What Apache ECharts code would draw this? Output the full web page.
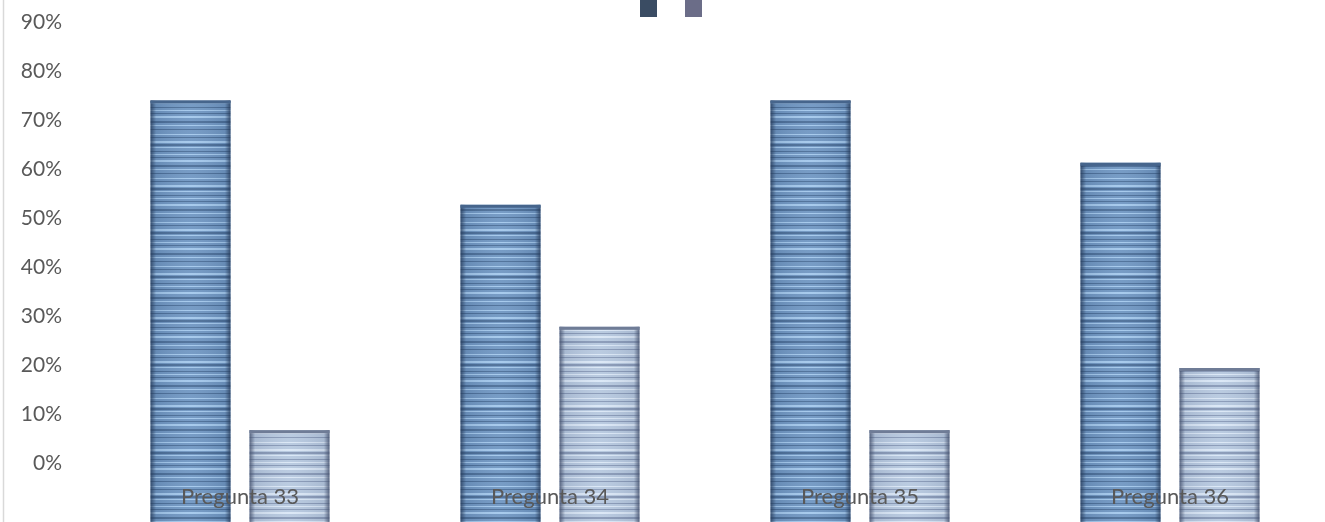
<!DOCTYPE html>
<html>
<head>
<meta charset="utf-8">
<script src="https://cdn.jsdelivr.net/npm/echarts@6/dist/echarts.min.js"></script>
<style>
  html, body { margin: 0; padding: 0; background: #ffffff; }
  #chart { width: 1325px; height: 522px; }
</style>
</head>
<body>
<div id="chart"></div>
<script>
// Category labels and the two series (percent values)
const categories = ['Pregunta 33', 'Pregunta 34', 'Pregunta 35', 'Pregunta 36'];
const serieA = [74, 52.7, 74, 61.3];
const serieB = [6.7, 27.8, 6.7, 19.4];
const seriesNames = ['Serie 1', 'Serie 2'];

// Value axis range; only non-negative ticks are labelled
const Y_MIN = -20;
const Y_MAX = 90;
const Y_STEP = 10;

const BAR_W = 80;
const BAR_GAP = 19;

// Horizontal striped fill used inside the bars
function stripeCanvas(base, light, dark) {
  const c = document.createElement('canvas');
  c.width = 4; c.height = 44;
  const g = c.getContext('2d');
  g.fillStyle = base; g.fillRect(0, 0, 4, 44);
  const rows = [
    [2, 1, light], [5, 1, dark], [9, 2, light], [12, 2, dark], [15, 1, light],
    [19, 1, dark], [22, 1, light], [25, 1, dark], [28, 2, light], [33, 2, dark],
    [37, 1, light], [41, 1, dark]
  ];
  rows.forEach(([y, h, col]) => { g.fillStyle = col; g.fillRect(0, y, 4, h); });
  return c;
}

const looks = [
  {
    pattern: stripeCanvas('#6f96c2', '#a3c8ec', '#4a6d97'),
    edge: 'rgba(38,58,88,0.8)', soft: 'rgba(38,58,88,0.12)', top: '#46658c'
  },
  {
    pattern: stripeCanvas('#b6c8df', '#dae7f6', '#8798b6'),
    edge: 'rgba(70,82,110,0.85)', soft: 'rgba(70,82,110,0.12)', top: '#6f7c96'
  }
];

function barRenderer(side, look) {
  return function (params, api) {
    const idx = api.value(0);
    const top = api.coord([idx, api.value(1)]);
    const base = api.coord([idx, Y_MIN]);
    const x = side < 0 ? top[0] - BAR_GAP / 2 - BAR_W : top[0] + BAR_GAP / 2;
    const h = base[1] - top[1];
    return {
      type: 'group',
      children: [
        { type: 'rect', shape: { x: x, y: top[1], width: BAR_W, height: h },
          style: { fill: { image: look.pattern, repeat: 'repeat' } } },
        { type: 'rect', shape: { x: x, y: top[1], width: BAR_W, height: h },
          style: { fill: new echarts.graphic.LinearGradient(0, 0, 1, 0, [
            { offset: 0, color: look.edge },
            { offset: 0.07, color: look.soft },
            { offset: 0.5, color: 'rgba(255,255,255,0.06)' },
            { offset: 0.93, color: look.soft },
            { offset: 1, color: look.edge }
          ]) } },
        { type: 'rect', shape: { x: x, y: top[1], width: BAR_W, height: 3 },
          style: { fill: look.top } }
      ]
    };
  };
}

const chart = echarts.init(document.getElementById('chart'), null, { renderer: 'canvas' });

chart.setOption({
  animation: false,
  backgroundColor: '#ffffff',
  textStyle: { fontFamily: 'Lato' },
  grid: { left: 85, right: 0, top: 22, height: 539, containLabel: false, outerBoundsMode: 'none' },
  legend: {
    left: 635, top: -6,
    itemWidth: 17, itemHeight: 18, itemGap: 28,
    icon: 'rect',
    formatter: function () { return ''; },
    data: [
      { name: seriesNames[0], itemStyle: { color: '#3a4c63' } },
      { name: seriesNames[1], itemStyle: { color: '#6b6d88' } }
    ]
  },
  xAxis: {
    type: 'category',
    data: categories,
    z: 10,
    offset: -82,
    axisLine: { show: false },
    axisTick: { show: false },
    axisLabel: { color: '#595959', fontSize: 22, margin: 7, fontFamily: 'Lato' }
  },
  yAxis: {
    type: 'value',
    min: Y_MIN, max: Y_MAX, interval: Y_STEP,
    axisLine: { show: false },
    axisTick: { show: false },
    splitLine: { show: false },
    axisLabel: {
      color: '#595959', fontSize: 21, margin: 23, fontFamily: 'Lato',
      formatter: function (v) { return v < 0 ? '' : v + '%'; }
    }
  },
  graphic: [
    { type: 'line', shape: { x1: 3.5, y1: 0, x2: 3.5, y2: 522 },
      style: { stroke: '#d9d9d9', lineWidth: 1.5 } }
  ],
  series: [
    {
      name: seriesNames[0], type: 'custom',
      itemStyle: { color: '#3a4c63' },
      renderItem: barRenderer(-1, looks[0]),
      data: serieA.map((v, i) => [i, v])
    },
    {
      name: seriesNames[1], type: 'custom',
      itemStyle: { color: '#6b6d88' },
      renderItem: barRenderer(1, looks[1]),
      data: serieB.map((v, i) => [i, v])
    }
  ]
});
</script>
</body>
</html>
